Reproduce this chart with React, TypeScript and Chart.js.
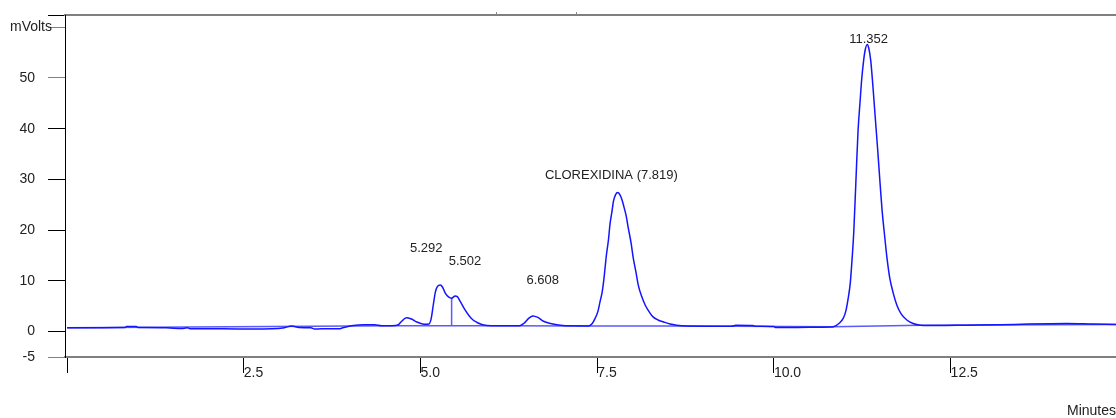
import React, { useEffect, useRef } from "react";
import { Chart, registerables } from "chart.js";

Chart.register(...registerables);

// ---- data ----
const traceTimes = [
  0.0, 0.5, 0.82, 0.84, 0.98, 1.0, 1.4, 1.62, 1.7, 1.75, 2.2, 2.6, 2.9, 3.05, 3.18, 3.28, 3.45, 3.5, 3.6, 3.85,
  3.9, 4.05, 4.2, 4.35, 4.45, 4.6, 4.68, 4.73, 4.8, 4.87, 4.95, 5.05, 5.12, 5.15, 5.18, 5.21, 5.24, 5.28, 5.31,
  5.35, 5.4, 5.44, 5.49, 5.52, 5.56, 5.63, 5.72, 5.8, 5.88, 6.0, 6.4, 6.46, 6.53, 6.59, 6.66, 6.74, 6.84, 6.95,
  7.05, 7.38, 7.43, 7.47, 7.51, 7.54, 7.57, 7.59, 7.61, 7.63, 7.66, 7.68, 7.71, 7.73, 7.76, 7.79, 7.82, 7.85,
  7.87, 7.91, 7.94, 7.98, 8.01, 8.05, 8.08, 8.13, 8.18, 8.24, 8.29, 8.36, 8.44, 8.53, 8.62, 8.75, 9.4, 9.46,
  9.7, 9.75, 10.0, 10.02, 10.5, 10.8, 10.84, 10.92, 10.98, 11.02, 11.05, 11.08, 11.1, 11.13, 11.16, 11.19, 11.22,
  11.24, 11.27, 11.29, 11.32, 11.34, 11.37, 11.4, 11.43, 11.47, 11.5, 11.53, 11.57, 11.6, 11.64, 11.69, 11.74,
  11.8, 11.88, 11.97, 12.07, 12.3, 12.73, 13.2, 13.6, 14.14, 14.5, 14.84,
];
const traceMv = [
  0.75, 0.78, 0.8, 1.0, 1.0, 0.8, 0.78, 0.6, 0.75, 0.55, 0.55, 0.5, 0.55, 0.7, 1.1, 0.8, 0.75, 0.5, 0.55, 0.55,
  0.75, 1.2, 1.35, 1.35, 1.15, 1.15, 1.3, 2.0, 2.75, 2.5, 1.9, 1.45, 1.5, 2.5, 5.2, 7.8, 8.9, 9.2, 8.8,
  7.6, 6.8, 6.6, 7.0, 6.9, 6.0, 4.3, 2.6, 1.8, 1.35, 1.15, 1.15, 1.6, 2.6, 3.1, 2.8, 2.05, 1.6, 1.3,
  1.15, 1.13, 1.6, 2.6, 4.0, 5.9, 7.8, 9.8, 12.4, 15.1, 18.2, 21.1, 23.8, 25.7, 27.0, 27.4, 27.0, 26.0,
  25.0, 22.8, 20.4, 17.4, 14.5, 11.6, 9.2, 6.9, 5.2, 3.8, 2.9, 2.3, 1.9, 1.5, 1.27, 1.1, 1.05, 1.25,
  1.2, 1.05, 1.0, 0.8, 0.85, 0.9, 0.95, 1.6, 2.6, 4.2, 6.5, 9.5, 13.1, 19.7, 29.6, 39.5, 45.5,
  49.4, 53.5, 55.4, 56.6, 56.0, 53.4, 48.5, 42.9, 35.5, 29.6, 24.0, 18.4, 14.5, 10.5, 7.5, 5.2,
  3.5, 2.3, 1.6, 1.27, 1.2, 1.27, 1.35, 1.5, 1.6, 1.5, 1.4,
];

const baselineTimes = [0.0, 4.6, 6.0, 7.38, 8.75, 10.84, 12.07, 14.84];
const baselineMv = [0.75, 1.15, 1.15, 1.13, 1.1, 0.95, 1.27, 1.4];

const dropTimes = [5.44, 5.44];
const dropMv = [1.15, 6.6];

const peakLabels = ["5.292", "5.502", "6.608", "CLOREXIDINA (7.819)", "11.352"];
const peakLabelTimes = [5.08, 5.63, 6.73, 7.7, 11.34];
const peakLabelMv = [15.7, 13.2, 9.4, 30.0, 56.8];

const eventTimes = [6.07, 7.2];

const xTickValues = [0, 2.5, 5, 7.5, 10, 12.5];
const xTickLabels = ["", "2.5", "5.0", "7.5", "10.0", "12.5"];
const yTickValues = [-5, 0, 10, 20, 30, 40, 50, 60, 62.4];
const yTickLabels = ["-5", "0", "10", "20", "30", "40", "50", "", ""];
const yAxisTitle = "mVolts";
const xAxisTitle = "Minutes";

const FONT = "'Liberation Sans', Arial, sans-serif";

const pairs = (xs: number[], ys: number[]) => xs.map((x, i) => ({ x, y: ys[i] }));

const annotationPlugin = {
  id: "peakAnnotations",
  afterDatasetsDraw(chart: any) {
    const { ctx, scales } = chart;
    const xs = scales.x;
    const ys = scales.y;
    ctx.save();
    ctx.fillStyle = "#222";
    ctx.font = `13px ${FONT}`;
    ctx.textAlign = "center";
    ctx.textBaseline = "alphabetic";
    peakLabels.forEach((txt, i) => {
      ctx.fillText(txt, xs.getPixelForValue(peakLabelTimes[i]), ys.getPixelForValue(peakLabelMv[i]));
    });
    ctx.font = `14px ${FONT}`;
    ctx.textAlign = "left";
    ctx.textBaseline = "middle";
    ctx.fillText(yAxisTitle, 10, ys.getPixelForValue(60));
    ctx.restore();
  },
};

export default function App() {
  const ref = useRef<HTMLCanvasElement | null>(null);

  useEffect(() => {
    if (!ref.current) return;
    const chart = new Chart(ref.current, {
      type: "line",
      data: {
        datasets: [
          {
            data: pairs(traceTimes, traceMv),
            borderColor: "rgb(20,20,255)",
            borderWidth: 1.5,
            pointRadius: 0,
            cubicInterpolationMode: "monotone",
          },
          {
            data: pairs(dropTimes, dropMv),
            borderColor: "rgb(90,90,255)",
            borderWidth: 1.5,
            pointRadius: 0,
          },
          {
            data: pairs(baselineTimes, baselineMv),
            borderColor: "rgb(90,90,255)",
            borderWidth: 1.5,
            pointRadius: 0,
          },
        ],
      },
      options: {
        animation: false,
        responsive: false,
        layout: { padding: 0 },
        plugins: { legend: { display: false }, tooltip: { enabled: false } },
        scales: {
          x: {
            type: "linear",
            position: "bottom",
            min: -0.03,
            max: 14.84,
            afterBuildTicks: (s: any) => {
              s.ticks = xTickValues.map((v) => ({ value: v }));
            },
            afterFit: (s: any) => {
              s.height = 61;
              s.paddingLeft = 0;
              s.paddingRight = 0;
            },
            ticks: {
              align: "start",
              padding: -8,
              color: "#222",
              font: { family: FONT, size: 14 },
              maxRotation: 0,
              autoSkip: false,
              callback: (_v: any, i: number) => xTickLabels[i],
            },
            grid: {
              display: true,
              drawOnChartArea: false,
              drawTicks: true,
              tickLength: 16,
              tickColor: "#000",
              tickWidth: 1,
            },
            border: { display: true, color: "#808080", width: 2 },
            title: {
              display: true,
              text: xAxisTitle,
              align: "end",
              color: "#222",
              font: { family: FONT, size: 14 },
              padding: { top: 0, bottom: -2 },
            },
          },
          x2: {
            type: "linear",
            position: "top",
            min: -0.03,
            max: 14.84,
            afterBuildTicks: (s: any) => {
              s.ticks = eventTimes.map((v) => ({ value: v }));
            },
            afterFit: (s: any) => {
              s.height = 15;
              s.paddingLeft = 0;
              s.paddingRight = 0;
            },
            ticks: { display: false },
            grid: {
              display: true,
              drawOnChartArea: false,
              drawTicks: true,
              tickLength: 3,
              tickColor: "#888",
              tickWidth: 1,
            },
            border: { display: true, color: "#808080", width: 2 },
          },
          y: {
            type: "linear",
            position: "left",
            min: -5,
            max: 62.4,
            afterBuildTicks: (s: any) => {
              s.ticks = yTickValues.map((v) => ({ value: v }));
            },
            afterFit: (s: any) => {
              s.width = 65;
              s.paddingTop = 0;
              s.paddingBottom = 0;
            },
            ticks: {
              padding: 13,
              color: "#222",
              font: { family: FONT, size: 14 },
              autoSkip: false,
              callback: (_v: any, i: number) => yTickLabels[i],
            },
            grid: {
              display: true,
              drawOnChartArea: false,
              drawTicks: true,
              tickLength: 17,
              tickWidth: 1,
              tickColor: (c: any) => {
                const v = c.tick ? c.tick.value : 0;
                return v === -5 || v === 50 || v === 60 ? "#808080" : "#000";
              },
            },
            border: { display: true, color: "#000", width: 1 },
          },
        },
      } as any,
      plugins: [annotationPlugin],
    });
    return () => chart.destroy();
  }, []);

  return (
    <div style={{ position: "absolute", left: 0, top: 0, width: 1116, height: 418, background: "#fff" }}>
      <canvas ref={ref} width={1116} height={418} style={{ display: "block" }} />
    </div>
  );
}
